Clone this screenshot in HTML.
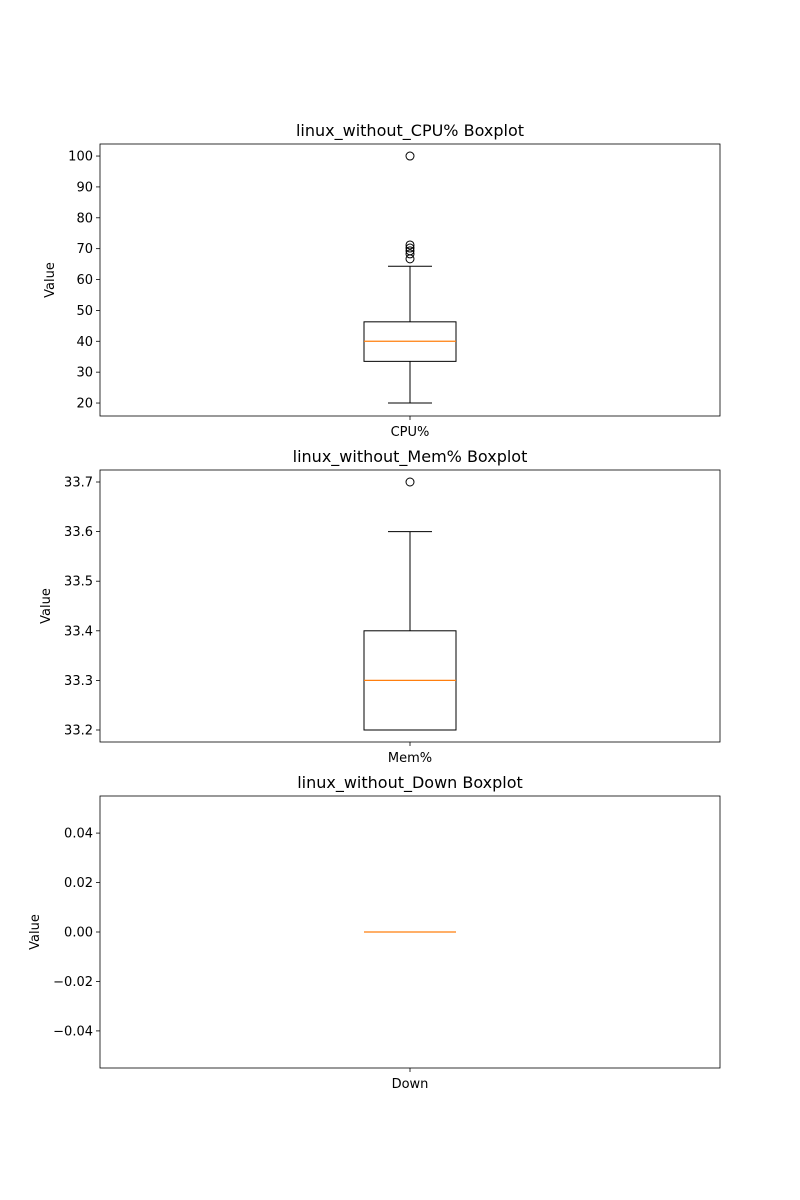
<!DOCTYPE html>
<html><head><meta charset="utf-8"><style>
body{margin:0;background:#fff;}
svg{display:block;font-family:"DejaVu Sans","Liberation Sans",sans-serif;}
</style></head><body>
<svg id="fig" width="800" height="1200"></svg>
<script>
const titles = ["linux_without_CPU% Boxplot","linux_without_Mem% Boxplot","linux_without_Down Boxplot"];
const categories = ["CPU%","Mem%","Down"];
const whiskerLow = [20, 33.2, 0];
const q1Values = [33.5, 33.2, 0];
const medians = [40, 33.3, 0];
const q3Values = [46.3, 33.4, 0];
const whiskerHigh = [64.3, 33.6, 0];
const outliers = [[100, 71.2, 70.2, 69.3, 68.3, 66.7],[33.7],[]];
const yMins = [15.8, 33.1758, -0.055];
const yMaxs = [103.9, 33.7242, 0.055];
const yTicks = [[20,30,40,50,60,70,80,90,100],[33.2,33.3,33.4,33.5,33.6,33.7],[-0.04,-0.02,0,0.02,0.04]];
const tickLabels = [["20","30","40","50","60","70","80","90","100"],["33.2","33.3","33.4","33.5","33.6","33.7"],["\u22120.04","\u22120.02","0.00","0.02","0.04"]];
const ylabelX = [54, 50, 39];

const NS="http://www.w3.org/2000/svg";
const svg=document.getElementById('fig');
function mk(tag,attrs,parent){const e=document.createElementNS(NS,tag);for(const k in attrs)e.setAttribute(k,attrs[k]);(parent||svg).appendChild(e);return e;}
const L=100,R=720,CX=410,BW=46,CW=22;
const tops=[144,470,796],H=272;
for(let i=0;i<3;i++){
  const top=tops[i],bot=top+H;
  const y=v=>bot-(v-yMins[i])/(yMaxs[i]-yMins[i])*H;
  const g=mk('g',{});
   
  const t=mk('text',{x:410,y:top-8,'text-anchor':'middle','font-size':16},g);t.textContent=titles[i];
   
  yTicks[i].forEach((v,j)=>{
    const yy=y(v);
    mk('line',{x1:L-4,x2:L,y1:yy,y2:yy,stroke:'#000','stroke-width':0.8},g);
    const tl=mk('text',{x:L-7,y:yy+4.5,'text-anchor':'end','font-size':13},g);tl.textContent=tickLabels[i][j];
     
  });
  const yl=mk('text',{x:ylabelX[i],y:top+H/2,'text-anchor':'middle','font-size':13,transform:`rotate(-90 ${ylabelX[i]} ${top+H/2})`},g);yl.textContent='Value';
   
  mk('line',{x1:CX,x2:CX,y1:bot,y2:bot+4,stroke:'#000','stroke-width':0.8},g);
  const xl=mk('text',{x:CX,y:bot+20,'text-anchor':'middle','font-size':13},g);xl.textContent=categories[i];
   
  mk('line',{x1:CX,x2:CX,y1:y(whiskerLow[i]),y2:y(q1Values[i]),stroke:'#000'},g);
  mk('line',{x1:CX,x2:CX,y1:y(q3Values[i]),y2:y(whiskerHigh[i]),stroke:'#000'},g);
  mk('line',{x1:CX-CW,x2:CX+CW,y1:y(whiskerLow[i]),y2:y(whiskerLow[i]),stroke:'#000'},g);
  mk('line',{x1:CX-CW,x2:CX+CW,y1:y(whiskerHigh[i]),y2:y(whiskerHigh[i]),stroke:'#000'},g);
  const b=mk('rect',{x:CX-BW,y:y(q3Values[i]),width:2*BW,height:Math.max(0,y(q1Values[i])-y(q3Values[i])),fill:'none',stroke:'#000'},g);
   
  const m=mk('line',{x1:CX-BW,x2:CX+BW,y1:y(medians[i]),y2:y(medians[i]),stroke:'#ff7f0e','stroke-width':1.2},g);
   
  outliers[i].forEach(v=>{
    const c=mk('circle',{cx:CX,cy:y(v),r:4,fill:'none',stroke:'#000'},g);
     
  });
  const fr=mk('rect',{x:L,y:top,width:R-L,height:H,fill:'none',stroke:'#000','stroke-width':0.8},g);
   
}
</script>
</body></html>
